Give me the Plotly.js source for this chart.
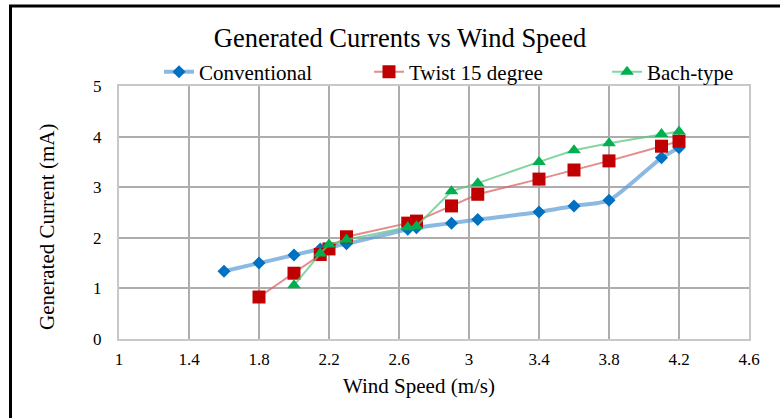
<!DOCTYPE html>
<html><head><meta charset="utf-8">
<script src="https://cdn.plot.ly/plotly-3.0.1.min.js"></script>
<style>html,body{margin:0;padding:0;background:#fff}#chart{width:780px;height:418px}</style>
</head><body><div id="chart"></div>
<script>
const convX = [1.6, 1.8, 2.0, 2.15, 2.3, 2.65, 2.7, 2.9, 3.05, 3.4, 3.6, 3.8, 4.1, 4.2];
const convY = [1.34, 1.50, 1.66, 1.78, 1.88, 2.17, 2.20, 2.29, 2.36, 2.51, 2.63, 2.74, 3.58, 3.78];
const twistX = [1.8, 2.0, 2.15, 2.2, 2.3, 2.65, 2.7, 2.9, 3.05, 3.4, 3.6, 3.8, 4.1, 4.2];
const twistY = [0.83, 1.30, 1.67, 1.78, 2.02, 2.29, 2.33, 2.63, 2.86, 3.16, 3.34, 3.52, 3.81, 3.91];
const bachX = [2.0, 2.15, 2.2, 2.3, 2.65, 2.7, 2.9, 3.05, 3.4, 3.6, 3.8, 4.1, 4.2];
const bachY = [1.06, 1.69, 1.87, 1.96, 2.21, 2.23, 2.92, 3.08, 3.50, 3.73, 3.87, 4.05, 4.10];
const seriesNames = ["Conventional", "Twist 15 degree", "Bach-type"];
const xTicks = [1, 1.4, 1.8, 2.2, 2.6, 3, 3.4, 3.8, 4.2, 4.6];
const yTicks = [0, 1, 2, 3, 4, 5];

const serif = "Liberation Serif, Times New Roman, serif";
const traces = [
  {x: convX, y: convY, name: seriesNames[0], mode: "lines+markers", legend: "legend",
   line: {color: "rgba(91,155,213,0.7)", width: 4, shape: "spline", smoothing: 0.6},
   marker: {symbol: "diamond", size: 10, color: "#0070C0"}},
  {x: twistX, y: twistY, name: seriesNames[1], mode: "lines+markers", legend: "legend2",
   line: {color: "rgba(220,100,100,0.75)", width: 2},
   marker: {symbol: "square", size: 13, color: "#C00000"}},
  {x: bachX, y: bachY, name: seriesNames[2], mode: "lines+markers", legend: "legend3",
   line: {color: "rgba(90,200,130,0.75)", width: 2},
   marker: {symbol: "triangle-up", size: 12, color: "#00B050"}}
];
const L = 119, R = 31, T = 86, B = 79, W = 780, H = 418;
const pw = W - L - R, ph = H - T - B;
const px = v => (v - L) / pw;
const py = v => (H - B - v) / ph;
function leg(xpx) {
  return {orientation: "h", x: px(xpx), xanchor: "left", y: py(72), yanchor: "middle",
          font: {family: serif, size: 21, color: "#000"}, bgcolor: "rgba(0,0,0,0)", borderwidth: 0};
}
const layout = {
  width: W, height: H,
  margin: {l: L, r: R, t: T, b: B},
  paper_bgcolor: "#fff", plot_bgcolor: "#fff",
  font: {family: serif, color: "#000"},
  title: {text: "Generated Currents vs Wind Speed", font: {family: serif, size: 26.5, color: "#000"},
          x: 400 / W, xanchor: "center", y: 1 - 38 / H, yanchor: "middle"},
  showlegend: true,
  legend: leg(159), legend2: leg(369), legend3: leg(607),
  xaxis: {range: [1, 4.6], tickvals: xTicks, ticktext: xTicks.map(String),
          showgrid: true, gridcolor: "#b0acac", gridwidth: 2, zeroline: false,
          showline: true, linecolor: "#c8c8c8", linewidth: 2, mirror: true, ticks: "",
          tickfont: {family: serif, size: 17, color: "#000"}, ticklabelstandoff: 4},
  yaxis: {range: [0, 5], tickvals: yTicks, showgrid: true, gridcolor: "#b0acac", gridwidth: 2,
          zeroline: false, showline: true, linecolor: "#c8c8c8", linewidth: 2, mirror: true, ticks: "",
          tickfont: {family: serif, size: 17, color: "#000"}, ticklabelstandoff: 12},
  annotations: [
    {text: "Wind Speed (m/s)", xref: "paper", yref: "paper", x: px(419), y: py(386),
     xanchor: "center", yanchor: "middle", showarrow: false, font: {family: serif, size: 21, color: "#000"}},
    {text: "Generated Current (mA)", xref: "paper", yref: "paper", x: px(47), y: py(227), textangle: -90,
     xanchor: "center", yanchor: "middle", showarrow: false, font: {family: serif, size: 21, color: "#000"}}
  ],
  shapes: [{type: "rect", xref: "paper", yref: "paper",
            x0: px(10.5), x1: px(800), y0: py(440), y1: py(6),
            line: {color: "#000", width: 3}, fillcolor: "rgba(0,0,0,0)"}]
};
Plotly.newPlot("chart", traces, layout, {displayModeBar: false, staticPlot: true});
</script></body></html>
